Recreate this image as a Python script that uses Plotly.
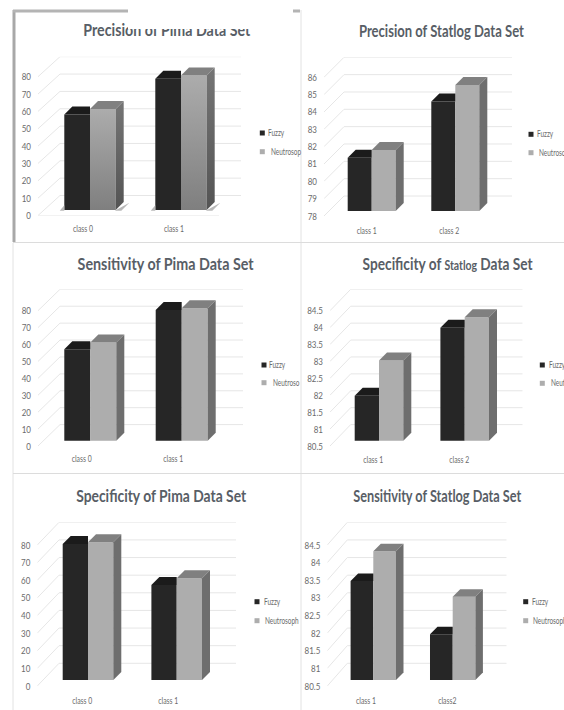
import plotly.graph_objects as go

# ---------- data ----------
titles = ["<b>Precision of Pima Data Set</b>", "<b>Precision of Statlog Data Set</b>",
          "<b>Sensitivity of Pima Data Set</b>", "<b>Specificity of <span style='font-size:13px'>Statlog</span> Data Set</b>",
          "<b>Specificity of Pima Data Set</b>", "<b>Sensitivity of Statlog Data Set</b>"]
categories = [["class 0", "class 1"], ["class 1", "class 2"], ["class 0", "class 1"],
              ["class 1", "class 2"], ["class 0", "class 1"], ["class 1", "class2"]]
fuzzy = [[55.0, 75.6], [81.07, 84.31], [54.0, 77.3], [81.83, 83.84], [77.2, 53.9], [83.31, 81.8]]
neutrosophic = [[58.2, 77.5], [81.52, 85.27], [58.0, 78.3], [82.87, 84.15], [78.1, 57.7], [84.15, 82.86]]
tick_labels = [[str(v) for v in range(0, 81, 10)],
               [str(v) for v in range(78, 87)],
               [str(v) for v in range(0, 81, 10)],
               ["80.5", "81", "81.5", "82", "82.5", "83", "83.5", "84", "84.5"],
               [str(v) for v in range(0, 81, 10)],
               ["80.5", "81", "81.5", "82", "82.5", "83", "83.5", "84", "84.5"]]
legend_fuzzy = ["Fuzzy"] * 6
legend_neutro = ["Neutrosop", "Neutroso", "Neutroso", "Neut", "Neutrosoph", "Neutrosoph"]

# ---------- panel geometry (pixels on the 564x710 page) ----------
panels = [
    dict(xf=38, xb=60, xr=241, c=(90, 181), bw=25.7, t0=215.5, t1=76.7, top=56.7, base=210, d=8, ll=4.5,
         lab=(-7, -7), leg=(262.3, 133, 151.7), ltx=(266, 268.5), title=(166.7, 30)),
    dict(xf=324, xb=344, xr=512, c=(371.7, 455.3), bw=24, t0=216, t1=77.3, top=57.3, base=211, d=8, ll=6,
         lab=(-5, -6), leg=(531, 134.3, 152.7), ltx=(534.5, 537), title=(442.3, 31)),
    dict(xf=38, xb=60, xr=243, c=(90.3, 181.7), bw=26, t0=446, t1=310.7, top=289.3, base=440.7, d=8, ll=4,
         lab=(-8.6, -8.4), leg=(264, 365, 382.7), ltx=(267, 270.5), title=(165.7, 264)),
    dict(xf=330, xb=350.7, xr=522.7, c=(379, 464.7), bw=24.3, t0=446, t1=310.7, top=289.3, base=440.7, d=8, ll=5,
         lab=(-5.7, -5.4), leg=(542.3, 365, 383.3), ltx=(546.5, 549), title=(448.3, 264)),
    dict(xf=37.3, xb=59, xr=236, c=(88, 176.7), bw=25.3, t0=686, t1=545, top=522.3, base=680, d=8, ll=6,
         lab=(-5.7, -8.4), leg=(257, 601.7, 620.7), ltx=(261.5, 263.3), title=(161.7, 496)),
    dict(xf=327.3, xb=347.3, xr=506.7, c=(373.3, 452.7), bw=22.7, t0=686, t1=545, top=522.3, base=680, d=7.5, ll=6,
         lab=(-7.3, -5.4), leg=(525.7, 601.7, 620.7), ltx=(530, 531), title=(437.7, 496)),
]

FONT = "Lato, sans-serif"
C_FUZZY, C_FUZZY_TOP = "#262626", "#1b1b1b"
C_NEU, C_NEU_TOP, C_NEU_SIDE = "#adadad", "#808080", "#6e6e6e"
C_GRID, C_TEXT, C_TITLE = "#e6e6e6", "#6b6b6b", "#585e66"
W, H = 564, 710

def px(x):
    return x / W

def py(y):
    return 1 - y / H

def poly(xs, ys, color, xa, ya, **kw):
    return go.Scatter(x=xs, y=ys, mode="lines", fill="toself", fillcolor=color, line=dict(width=0),
                      xaxis=xa, yaxis=ya, showlegend=False, hoverinfo="skip", **kw)

fig = go.Figure()
layout = {}
shapes = []
annotations = []

for i, p in enumerate(panels):
    n = "" if i == 0 else str(i + 1)
    xa, ya = "x" + n, "y" + n
    spacing = p["c"][1] - p["c"][0]
    nums = [float(t) for t in tick_labels[i]]
    vmin, vmax = nums[0], nums[-1]
    s = (p["t0"] - p["t1"]) / (vmax - vmin)
    shift = (p["base"] - p["t0"]) / s
    ymin = vmin + shift
    ymax = vmin + (p["base"] - p["top"]) / s
    bw = p["bw"] / spacing
    dx, dy = p["d"] / spacing, p["d"] / s

    xlo = (p["xf"] - p["c"][0]) / spacing
    xhi = (p["xr"] - p["c"][0]) / spacing
    layout["xaxis" + n] = dict(
        domain=[px(p["xf"]), px(p["xr"])], range=[xlo, xhi], anchor=ya,
        tickmode="array", tickvals=[j + p["lab"][j] / spacing for j in range(2)],
        ticktext=categories[i], showgrid=False, zeroline=False, showline=False,
        ticks="outside", ticklen=p["ll"], tickcolor="rgba(0,0,0,0)",
        tickfont=dict(family=FONT, size=9.5, color=C_TEXT))
    layout["yaxis" + n] = dict(
        domain=[py(p["t0"]), py(p["top"])], range=[ymin, ymax], anchor=xa,
        tickmode="array", tickvals=[v + shift for v in nums], ticktext=tick_labels[i],
        showgrid=False, zeroline=False, showline=False,
        ticks="outside", ticklen=4, tickcolor="rgba(0,0,0,0)",
        tickfont=dict(family=FONT, size=10, color=C_TEXT))

    # walls: grid lines bent from the front edge to the back wall
    wall_dx = (p["xb"] - p["xf"]) / spacing
    wall_dy = (p["t1"] - p["top"]) / s
    line = dict(color=C_GRID, width=1)
    for v in nums:
        yf = v + shift
        shapes.append(dict(type="line", layer="below", xref=xa, yref=ya, x0=xlo, x1=xlo + wall_dx,
                           y0=yf, y1=yf + wall_dy, line=line))
        shapes.append(dict(type="line", layer="below", xref=xa, yref=ya, x0=xlo + wall_dx, x1=xhi,
                           y0=yf + wall_dy, y1=yf + wall_dy, line=line))
    if i == 0:
        shapes.append(dict(type="line", layer="below", xref=xa, yref=ya, x0=xlo, x1=xhi - wall_dx,
                           y0=ymin, y1=ymin, line=line))

    # front faces
    fig.add_bar(x=[0, 1], y=[v - vmin for v in fuzzy[i]], base=vmin, width=bw, offset=-bw,
                marker=dict(color=C_FUZZY, line=dict(width=0)), name="Fuzzy",
                xaxis=xa, yaxis=ya, showlegend=False)
    fig.add_bar(x=[0, 1], y=[v - vmin for v in neutrosophic[i]], base=vmin, width=bw, offset=0,
                marker=dict(color=C_NEU, line=dict(width=0)), name="Neutrosophic",
                xaxis=xa, yaxis=ya, showlegend=False)
    fig.update_layout(barmode="overlay")

    # depth faces
    for j in range(2):
        fv, nv = fuzzy[i][j], neutrosophic[i][j]
        if i == 0:
            fig.add_trace(poly([j + bw - 0.01, j + bw + dx * 1.7, j + bw + dx * 0.7, j + bw - 0.01],
                               [vmin - dy * 0.1, vmin + dy * 0.9, vmin - dy * 0.1, vmin - dy * 0.1], "#b8b8b8", xa, ya))
            fig.add_trace(poly([j - bw - 0.05, j - bw, j - bw, j - bw - 0.05],
                               [vmin - dy * 0.1, vmin + dy * 0.6, vmin - dy * 0.1, vmin - dy * 0.1], "#b8b8b8", xa, ya))
        fig.add_trace(poly([j - bw, j - bw + dx, j, j, j - bw],
                           [fv, fv + dy, fv + dy, fv, fv], C_FUZZY_TOP, xa, ya))
        fig.add_trace(poly([j, j + dx, j + bw + dx, j + bw, j],
                           [nv, nv + dy, nv + dy, nv, nv], C_NEU_TOP, xa, ya))
        side = dict(xs=[j + bw, j + bw + dx, j + bw + dx, j + bw, j + bw],
                    ys=[vmin, vmin + dy, nv + dy, nv, vmin])
        if i == 0:
            fig.add_trace(poly(side["xs"], side["ys"], C_NEU_SIDE, xa, ya,
                               fillgradient=dict(type="vertical", colorscale=[[0, "#545454"], [1, "#757575"]])))
            fig.add_trace(poly([j, j + bw, j + bw, j, j], [vmin, vmin, nv, nv, vmin], C_NEU, xa, ya,
                               fillgradient=dict(type="vertical", colorscale=[[0, "#7f7f7f"], [1, "#acacac"]])))
        else:
            fig.add_trace(poly(side["xs"], side["ys"], C_NEU_SIDE, xa, ya))

    # title
    tx, ty = p["title"]
    annotations.append(dict(text=titles[i], x=px(tx), y=py(ty), xref="paper", yref="paper",
                            xanchor="center", yanchor="middle", showarrow=False,
                            font=dict(family=FONT, size=17, color=C_TITLE)))
    # legend
    lx, ly1, ly2 = p["leg"]
    for yy, col, txt, tlx in ((ly1, C_FUZZY, legend_fuzzy[i], p["ltx"][0]),
                              (ly2, C_NEU, legend_neutro[i], p["ltx"][1])):
        shapes.append(dict(type="rect", xref="paper", yref="paper", x0=px(lx - 2.5), x1=px(lx + 2.5),
                           y0=py(yy + 2.5), y1=py(yy - 2.5), fillcolor=col, line=dict(width=0)))
        annotations.append(dict(text=txt, x=px(tlx), y=py(yy - 0.5), xref="paper", yref="paper",
                                xanchor="left", yanchor="middle", showarrow=False, align="left",
                                font=dict(family=FONT, size=9.5, color=C_TEXT)))

# panel frames
def frame(x0, y0, x1, y1, color, width=1):
    shapes.append(dict(type="line", xref="paper", yref="paper", x0=px(x0), x1=px(x1), y0=py(y0), y1=py(y1),
                       line=dict(color=color, width=width)))

frame(13, 243, 13, 710, "#e2e2e2")
frame(301, 10, 301, 710, "#e2e2e2")
frame(13, 242.5, 564, 242.5, "#dcdcdc")
frame(13, 473.5, 564, 473.5, "#dcdcdc")
frame(14, 10, 14, 242, "#a8a8a8", 3)
frame(13, 11, 300, 11, "#b4b4b4", 3)

# white patch torn across the first title, as in the reference
annotations.append(dict(text="&nbsp;", x=px(128), y=py(0), xref="paper", yref="paper",
                        xanchor="left", yanchor="top", showarrow=False, width=165, height=29,
                        bgcolor="#ffffff", borderpad=0, borderwidth=0))

fig.update_layout(
    width=W, height=H, margin=dict(l=0, r=0, t=0, b=0, autoexpand=False), autosize=False,
    paper_bgcolor="#ffffff", plot_bgcolor="rgba(0,0,0,0)", showlegend=False,
    shapes=shapes, annotations=annotations, **layout)

# the reference's lettering is a horizontally squeezed Calibri: condense the real text the same way
squeeze = """
document.body.style.margin='0';
document.documentElement.style.overflow='hidden';
function sq(t,w){if(t.getComputedTextLength()>0){t.setAttribute('lengthAdjust','spacingAndGlyphs');t.setAttribute('textLength',w);}}
document.querySelectorAll('[class*="tick"] text').forEach(function(t){
  var isX=/^x/.test(t.parentNode.getAttribute('class')||t.getAttribute('class')||'');
  sq(t,t.getComputedTextLength()*(isX?0.72:0.8));
});
var tw=[167,165,176,170,170,168],k=0;
document.querySelectorAll('.annotation-text').forEach(function(t){
  var fs=parseFloat(getComputedStyle(t).fontSize)||10;
  if(fs>12){sq(t,tw[k++]);}else{sq(t,t.getComputedTextLength()*0.68);}
});
"""
fig.write_html("out.html", config={"displayModeBar": False}, post_script=squeeze)
